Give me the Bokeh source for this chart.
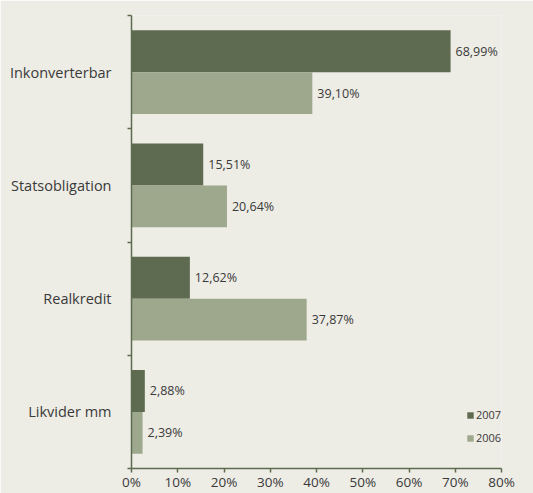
from bokeh.plotting import figure
from bokeh.models import ColumnDataSource, FixedTicker, Legend, LegendItem
from bokeh.core.properties import value
from bokeh.embed import file_html
from bokeh.resources import INLINE

categories = ["Inkonverterbar", "Statsobligation", "Realkredit", "Likvider mm"]
series_names = ["2007", "2006"]
values_2007 = [68.99, 15.51, 12.62, 2.88]
values_2006 = [39.10, 20.64, 37.87, 2.39]
labels_2007 = ["68,99%", "15,51%", "12,62%", "2,88%"]
labels_2006 = ["39,10%", "20,64%", "37,87%", "2,39%"]
x_ticks = [0, 10, 20, 30, 40, 50, 60, 70, 80]
x_tick_labels = ["0%", "10%", "20%", "30%", "40%", "50%", "60%", "70%", "80%"]

BG = "#EDECE5"
DARK = "#5E6B50"
LIGHT = "#9EA88C"
TEXT = "#3A3A3A"
FONT = "Open Sans"

n = len(categories)
centers = [n - i - 0.5 for i in range(n)]
dodge = 0.185
bar_h = 0.37

src07 = ColumnDataSource(dict(y=[c + dodge for c in centers], v=values_2007, lab=labels_2007))
src06 = ColumnDataSource(dict(y=[c - dodge for c in centers], v=values_2006, lab=labels_2006))

p = figure(width=533, height=493, output_backend="svg", toolbar_location=None,
           x_range=(0, 80), y_range=(0, n),
           min_border_left=131, min_border_right=32, min_border_top=15, min_border_bottom=20)
p.background_fill_color = BG
p.border_fill_color = BG
p.outline_line_color = None
p.grid.visible = False

r07 = p.hbar(y="y", right="v", left=0, height=bar_h, source=src07, fill_color=DARK, line_color=None)
r06 = p.hbar(y="y", right="v", left=0, height=bar_h, source=src06, fill_color=LIGHT, line_color=None)

for src in (src07, src06):
    p.text(x="v", y="y", text="lab", source=src, x_offset=5, text_align="left",
           text_baseline="middle", text_font=value(FONT), text_font_size="12.5px",
           text_color=TEXT)

# x axis
xa = p.xaxis[0]
xa.ticker = FixedTicker(ticks=x_ticks)
xa.major_label_overrides = {t: l for t, l in zip(x_ticks, x_tick_labels)}
xa.axis_line_color = DARK
xa.axis_line_width = 1.5
xa.major_tick_line_color = DARK
xa.major_tick_line_width = 1.5
xa.major_tick_out = 4
xa.major_tick_in = 0
xa.minor_tick_line_color = None
xa.major_label_standoff = 0
xa.major_label_text_font = FONT
xa.major_label_text_font_size = "13.5px"
xa.major_label_text_color = TEXT

# y axis
ya = p.yaxis[0]
ya.ticker = FixedTicker(ticks=centers, minor_ticks=list(range(n + 1)))
ya.major_label_overrides = {c: cat for c, cat in zip(centers, categories)}
ya.axis_line_color = DARK
ya.axis_line_width = 1.5
ya.major_tick_line_color = None
ya.major_tick_out = 0
ya.major_tick_in = 0
ya.minor_tick_line_color = DARK
ya.minor_tick_line_width = 1.5
ya.minor_tick_out = 4
ya.minor_tick_in = 0
ya.major_label_standoff = 16
ya.major_label_text_font = FONT
ya.major_label_text_font_size = "14.5px"
ya.major_label_text_color = TEXT

legend = Legend(items=[LegendItem(label=series_names[0], renderers=[r07]),
                       LegendItem(label=series_names[1], renderers=[r06])],
                location=(335, 23), orientation="vertical",
                glyph_width=8, glyph_height=8, label_height=14, label_standoff=2,
                spacing=8, padding=0, margin=0,
                label_text_font=FONT, label_text_font_size="11px", label_text_color=TEXT,
                background_fill_alpha=0, border_line_color=None)
p.add_layout(legend, "center")

open("out.html", "w").write(file_html(p, INLINE))
